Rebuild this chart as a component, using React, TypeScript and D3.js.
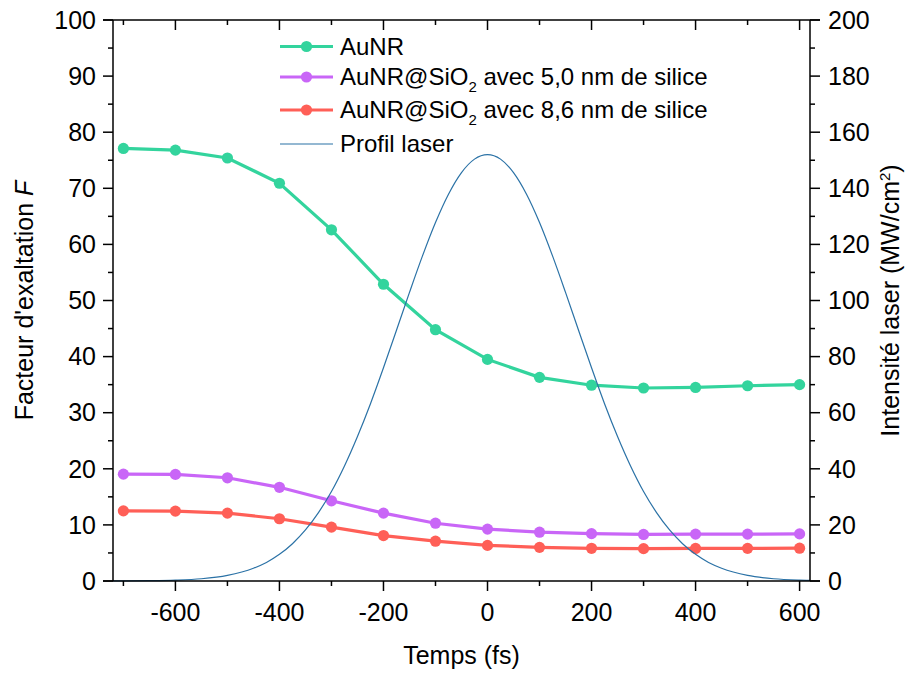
import React from "react";
import * as d3 from "d3";

// ---- data ----
const times = [-700, -600, -500, -400, -300, -200, -100, 0, 100, 200, 300, 400, 500, 600];
const aunr = [77.1, 76.8, 75.4, 70.9, 62.6, 52.9, 44.8, 39.5, 36.3, 34.9, 34.4, 34.5, 34.8, 35.0];
const sio2_50 = [19.05, 19.0, 18.4, 16.7, 14.3, 12.1, 10.3, 9.25, 8.7, 8.45, 8.3, 8.35, 8.35, 8.4];
const sio2_86 = [12.5, 12.45, 12.1, 11.1, 9.6, 8.1, 7.1, 6.35, 6.0, 5.83, 5.77, 5.8, 5.82, 5.85];

const laserTime = [-720, -700, -650, -600, -550, -500, -450, -425, -400, -375, -350, -325, -300, -275, -250, -225,
  -200, -175, -150, -125, -100, -75, -50, -25, 0, 25, 50, 75, 100, 125, 150, 175, 200, 225, 250, 275, 300, 325,
  350, 375, 400, 425, 450, 500, 550, 600, 620];
const laserIntensity = [0.02, 0.03, 0.1, 0.3, 0.8, 2.0, 4.55, 6.6, 9.5, 13.3, 18.2, 24.4, 31.9, 41.0, 51.5, 63.2,
  76.0, 89.4, 102.9, 115.9, 127.8, 137.9, 145.6, 150.4, 152, 150.4, 145.6, 137.9, 127.8, 115.9, 102.9, 89.4, 76.0,
  63.2, 51.5, 41.0, 31.9, 24.4, 18.2, 13.3, 9.5, 6.6, 4.55, 2.0, 0.8, 0.3, 0.19];

const xMajor = [-600, -400, -200, 0, 200, 400, 600];
const xMinor = [-700, -500, -300, -100, 100, 300, 500];
const yLeftMajor = [0, 10, 20, 30, 40, 50, 60, 70, 80, 90, 100];
const yLeftMinor = [5, 15, 25, 35, 45, 55, 65, 75, 85, 95];
const yRightMajor = [0, 20, 40, 60, 80, 100, 120, 140, 160, 180, 200];
const yRightMinor = [10, 30, 50, 70, 90, 110, 130, 150, 170, 190];

const seriesNames = ["AuNR", "AuNR@SiO2 avec 5,0 nm de silice", "AuNR@SiO2 avec 8,6 nm de silice", "Profil laser"];
const colors = ["#33d49d", "#c966f7", "#ff5f57", "#2b72a6"];

const FONT = "Arial, 'Liberation Sans', sans-serif";

export default function App() {
  const W = 908, H = 675;
  const L = 113, R = 810, T = 20, B = 581;
  const x = d3.scaleLinear().domain([-720, 620]).range([L, R]);
  const yL = d3.scaleLinear().domain([0, 100]).range([B, T]);
  const yR = d3.scaleLinear().domain([0, 200]).range([B, T]);

  const line = d3.line<number>().x((_, i) => x(times[i])).y((d) => yL(d));
  const laserLine = d3
    .line<number>()
    .x((_, i) => x(laserTime[i]))
    .y((d) => yR(d))
    .curve(d3.curveMonotoneX);

  const dataSeries = [aunr, sio2_50, sio2_86];
  const tickFs = 25;

  const legendRows = [46.5, 77, 110, 144];

  const renderLegendText = (name: string, y: number) => {
    if (name.includes("SiO2")) {
      const [a, b] = name.split("SiO2");
      return (
        <text x={340} y={y} dy="0.35em" fontSize={24} fontFamily={FONT} fill="#000">
          <tspan>{a}SiO</tspan>
          <tspan dy={6.5} fontSize={15}>2</tspan>
          <tspan dy={-6.5}>{b}</tspan>
        </text>
      );
    }
    return (
      <text x={340} y={y} dy="0.35em" fontSize={24} fontFamily={FONT} fill="#000">
        {name}
      </text>
    );
  };

  return (
    <div style={{ position: "absolute", left: 0, top: 0 }}>
      <svg width={W} height={H} style={{ display: "block", background: "#fff" }}>
        {/* data series */}
        {dataSeries.map((s, k) => (
          <g key={k}>
            <path d={line(s) || ""} fill="none" stroke={colors[k]} strokeWidth={3.2} />
            {s.map((v, i) => (
              <circle key={i} cx={x(times[i])} cy={yL(v)} r={5.6} fill={colors[k]} />
            ))}
          </g>
        ))}
        {/* laser */}
        <path d={laserLine(laserIntensity) || ""} fill="none" stroke={colors[3]} strokeWidth={1.2} />

        {/* axes frame */}
        <g stroke="#000" strokeWidth={1.5}>
          <line x1={L} x2={L} y1={T} y2={B} />
          <line x1={R} x2={R} y1={T} y2={B} />
          <line x1={L - 10} x2={R + 10} y1={B} y2={B} />
          <line x1={L - 10} x2={R + 10} y1={T} y2={T} />
          {xMajor.map((t) => (
            <line key={"bM" + t} x1={x(t)} x2={x(t)} y1={B} y2={B + 10} />
          ))}
          {xMinor.map((t) => (
            <line key={"bm" + t} x1={x(t)} x2={x(t)} y1={B} y2={B + 5} />
          ))}
          {xMajor.map((t) => (
            <line key={"tM" + t} x1={x(t)} x2={x(t)} y1={T} y2={T + 10} />
          ))}
          {xMinor.map((t) => (
            <line key={"tm" + t} x1={x(t)} x2={x(t)} y1={T} y2={T + 5} />
          ))}
          {yLeftMajor.map((v) => (
            <line key={"lM" + v} x1={L - 10} x2={L} y1={yL(v)} y2={yL(v)} />
          ))}
          {yLeftMinor.map((v) => (
            <line key={"lm" + v} x1={L - 5} x2={L} y1={yL(v)} y2={yL(v)} />
          ))}
          {yRightMajor.map((v) => (
            <line key={"rM" + v} x1={R} x2={R + 10} y1={yR(v)} y2={yR(v)} />
          ))}
          {yRightMinor.map((v) => (
            <line key={"rm" + v} x1={R} x2={R + 5} y1={yR(v)} y2={yR(v)} />
          ))}
        </g>

        {/* tick labels */}
        <g fontFamily={FONT} fontSize={tickFs} fill="#000">
          {xMajor.map((t) => (
            <text key={"xl" + t} x={x(t)} y={621} textAnchor="middle">
              {t}
            </text>
          ))}
          {yLeftMajor.map((v) => (
            <text key={"yl" + v} x={96} y={yL(v)} dy="0.35em" textAnchor="end">
              {v}
            </text>
          ))}
          {yRightMajor.map((v) => (
            <text key={"yr" + v} x={828} y={yR(v)} dy="0.35em" textAnchor="start">
              {v}
            </text>
          ))}
        </g>

        {/* axis titles */}
        <text x={(L + R) / 2} y={664} textAnchor="middle" fontFamily={FONT} fontSize={25} fill="#000">
          Temps (fs)
        </text>
        <text
          transform={`translate(33, ${(T + B) / 2}) rotate(-90)`}
          textAnchor="middle"
          fontFamily={FONT}
          fontSize={25}
          fill="#000"
        >
          Facteur d'exaltation <tspan fontStyle="italic">F</tspan>
        </text>
        <text
          transform={`translate(899, ${(T + B) / 2}) rotate(-90)`}
          textAnchor="middle"
          fontFamily={FONT}
          fontSize={25}
          fill="#000"
        >
          Intensité laser (MW/cm<tspan dy={-9} fontSize={15}>2</tspan>
          <tspan dy={9}>)</tspan>
        </text>

        {/* legend */}
        {seriesNames.map((name, k) => (
          <g key={"lg" + k}>
            <line
              x1={280}
              x2={333}
              y1={legendRows[k]}
              y2={legendRows[k]}
              stroke={colors[k]}
              strokeWidth={k === 3 ? 1.2 : 3.2}
            />
            {k < 3 && <circle cx={306.5} cy={legendRows[k]} r={5.6} fill={colors[k]} />}
            {renderLegendText(name, legendRows[k])}
          </g>
        ))}
      </svg>
    </div>
  );
}
